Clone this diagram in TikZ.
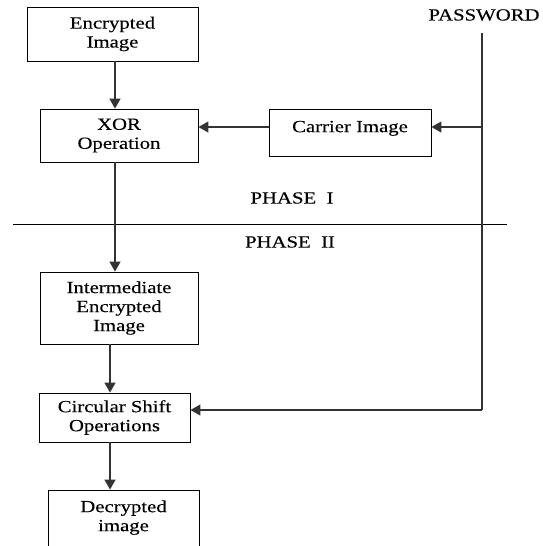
\documentclass[tikz,border=0pt]{standalone}
\usepackage{fontspec}
\setmainfont[FakeStretch=1.22,FakeBold=0.3]{Liberation Serif}
\usetikzlibrary{arrows.meta}
\tikzset{
  box/.style={draw=black, line width=0.9pt, inner sep=0pt, align=center, font=\fontsize{17}{19}\selectfont},
  lbl/.style={inner sep=0pt, font=\fontsize{17}{19}\selectfont},
  arr/.style={draw=black!80, line width=1.4pt, -{Triangle[length=10pt,width=11pt]}},
  ln/.style={draw=black!80, line width=1.4pt}
}
\begin{document}
\begin{tikzpicture}[x=1pt,y=-1pt]
\useasboundingbox (0,0) rectangle (543,546);
\node[box, minimum width=171, minimum height=54] (enc) at (112.5,34) {Encrypted\\Image};
\node[box, minimum width=158, minimum height=53] (xor) at (119,135.5) {XOR\\Operation};
\node[box, minimum width=162, minimum height=47] (car) at (350,132.5) {\raisebox{12pt}{Carrier Image}};
\node[lbl] (pwd) at (484,15) {PASSWORD};
\node[lbl] (ph1) at (292,198) {PHASE\ \ I};
\node[lbl] (ph2) at (290,242) {PHASE\ \ II};
\node[box, minimum width=158, minimum height=72] (inter) at (119,308) {Intermediate\\Encrypted\\Image};
\node[box, minimum width=151, minimum height=49] (circ) at (114.5,417.5) {Circular Shift\\Operations};
\node[box, minimum width=151, minimum height=70] (dec) at (123.5,525) {\raisebox{29pt}{\begin{tabular}{@{}c@{}}Decrypted\\image\end{tabular}}};
\coordinate (pw) at (482,33);
\coordinate (pwc) at (482,127);
\coordinate (pwb) at (482,410);
\coordinate (hl) at (13,224);
\coordinate (hr) at (507,224);
\draw[black, line width=0.9pt] (hl) -- (hr);
\draw[ln] (pw) -- (pwb);
\draw[arr] (pwc) -- (pwc -| car.east);
\draw[arr] (car.west |- pwc) -- (xor.east |- pwc);
\draw[ln] (pwb) -- ([xshift=12pt]pwb -| circ.east);
\draw[arr] (pwb) -- (pwb -| circ.east);
\draw[arr] ([xshift=2.5]enc.south) -- ([xshift=-4]xor.north);
\draw[arr] ([xshift=-4]xor.south) -- ([xshift=-4]inter.north);
\draw[arr] ([xshift=-9]inter.south) -- ([xshift=-4.5]circ.north);
\draw[arr] ([xshift=-4.5]circ.south) -- ([xshift=-13.5]dec.north);
\end{tikzpicture}
\end{document}
